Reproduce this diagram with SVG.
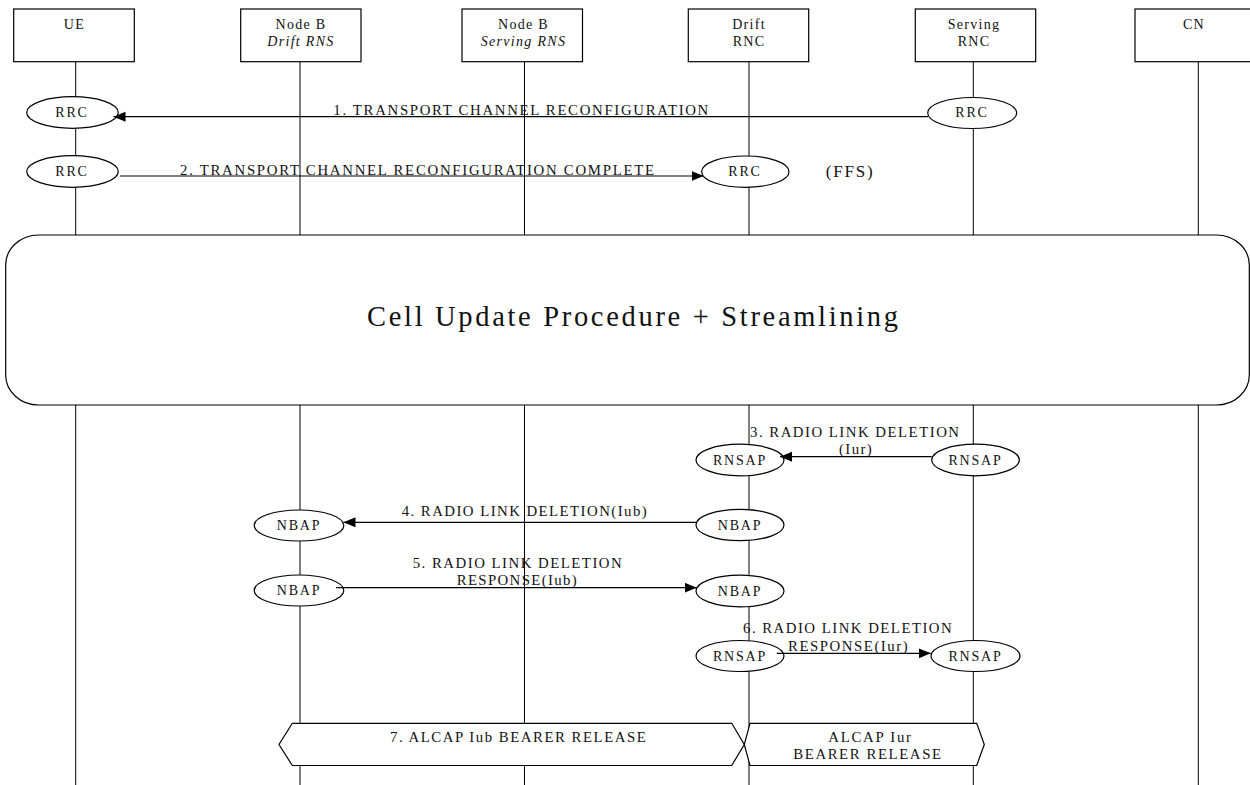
<svg xmlns="http://www.w3.org/2000/svg" width="1250" height="785" viewBox="0 0 1250 785">
<style>
.ln{stroke:#000;stroke-width:1;fill:none}
.box{fill:#fff;stroke:#000;stroke-width:1.2}
.ell{fill:#fff;stroke:#000;stroke-width:1.2}
.t{font-family:"Liberation Serif","Times New Roman",serif;font-size:14px;fill:#111}
.m{font-size:14.8px}
.h{letter-spacing:1.3px;text-anchor:middle}
.e{letter-spacing:1.8px;text-anchor:middle}
.i{font-style:italic}
.msg{stroke:#000;stroke-width:1.2;fill:none;marker-end:url(#ah)}
</style>
<defs>
<marker id="ah" markerUnits="userSpaceOnUse" markerWidth="13" markerHeight="11" refX="12" refY="5" orient="auto">
<path d="M0,0 L12,5 L0,10 z" fill="#000"/>
</marker>
</defs>
<rect width="1250" height="785" fill="#fff"/>
<g id="lifelines">
<path class="ln" d="M75.7,61.7V785 M300,61.7V785 M524.5,61.7V785 M749,61.7V785 M973.3,61.7V785 M1198.3,61.7V785"/>
</g>
<g id="node-ue">
<rect class="box" x="13.7" y="9" width="120.6" height="52.7"/>
<text class="t h" x="74.5" y="29.3">UE</text>
</g>
<g id="node-nodeb-drift">
<rect class="box" x="240.7" y="9" width="120.3" height="52.7"/>
<text class="t h" x="301" y="29.3">Node B</text>
<text class="t h i" x="301" y="45.7">Drift RNS</text>
</g>
<g id="node-nodeb-serving">
<rect class="box" x="462" y="9" width="120.5" height="52.7"/>
<text class="t h" x="523.5" y="29.3">Node B</text>
<text class="t h i" x="523.5" y="45.7">Serving RNS</text>
</g>
<g id="node-drift-rnc">
<rect class="box" x="688.3" y="9" width="120.4" height="52.7"/>
<text class="t h" x="749" y="29.3">Drift</text>
<text class="t h" x="749" y="46">RNC</text>
</g>
<g id="node-serving-rnc">
<rect class="box" x="915.3" y="9" width="120.4" height="52.7"/>
<text class="t h" x="974" y="29.3">Serving</text>
<text class="t h" x="974" y="46">RNC</text>
</g>
<g id="node-cn">
<rect class="box" x="1135" y="9" width="125" height="52.7"/>
<text class="t h" x="1194" y="29.3">CN</text>
</g>
<g id="procedure">
<rect class="box" x="5.7" y="235" width="1243.6" height="170" rx="33" ry="30"/>
<text class="t" style="font-size:28.5px" x="367" y="326" textLength="531" lengthAdjust="spacing">Cell Update Procedure + Streamlining</text>
</g>
<g id="rrc-ue-1"><ellipse class="ell" cx="72.5" cy="112.5" rx="45.8" ry="15.8"/><text class="t e" x="72" y="116.7">RRC</text></g>
<g id="rrc-ue-2"><ellipse class="ell" cx="72.5" cy="171.5" rx="45.8" ry="15.8"/><text class="t e" x="72" y="175.7">RRC</text></g>
<g id="rrc-srnc"><ellipse class="ell" cx="972.2" cy="113" rx="44.5" ry="15.5"/><text class="t e" x="972" y="117">RRC</text></g>
<g id="rrc-drnc"><ellipse class="ell" cx="745.3" cy="171.7" rx="43.7" ry="15.7"/><text class="t e" x="745" y="176">RRC</text></g>
<g id="rnsap-drnc-3"><ellipse class="ell" cx="740" cy="460" rx="44" ry="15.8"/><text class="t e" x="740" y="464.5">RNSAP</text></g>
<g id="rnsap-srnc-3"><ellipse class="ell" cx="975.5" cy="460" rx="43.8" ry="15.8"/><text class="t e" x="975.5" y="464.5">RNSAP</text></g>
<g id="nbap-nodeb-4"><ellipse class="ell" cx="299" cy="525.5" rx="44.8" ry="15.5"/><text class="t e" x="299" y="530">NBAP</text></g>
<g id="nbap-drnc-4"><ellipse class="ell" cx="740" cy="525" rx="44" ry="15.7"/><text class="t e" x="740" y="529.5">NBAP</text></g>
<g id="nbap-nodeb-5"><ellipse class="ell" cx="299" cy="590.5" rx="44.8" ry="15.5"/><text class="t e" x="299" y="595">NBAP</text></g>
<g id="nbap-drnc-5"><ellipse class="ell" cx="740" cy="591" rx="44" ry="15.8"/><text class="t e" x="740" y="595.5">NBAP</text></g>
<g id="rnsap-drnc-6"><ellipse class="ell" cx="740" cy="656" rx="44" ry="15.5"/><text class="t e" x="740" y="660.5">RNSAP</text></g>
<g id="rnsap-srnc-6"><ellipse class="ell" cx="975.5" cy="656" rx="44.5" ry="15.5"/><text class="t e" x="975.5" y="660.5">RNSAP</text></g>
<g id="connectors">
<path class="msg" d="M928,116.7H113.5"/>
<path class="msg" d="M120,176H703.5"/>
<path class="msg" d="M931.7,456.7H780"/>
<path class="msg" d="M696,522.3H343.5"/>
<path class="msg" d="M336,587.7H696.7"/>
<path class="msg" d="M776.7,653.3H930.7"/>
</g>
<g id="labels">
<text class="t m" x="333.3" y="115" textLength="375" lengthAdjust="spacing">1. TRANSPORT CHANNEL RECONFIGURATION</text>
<text class="t m" x="180" y="175" textLength="474" lengthAdjust="spacing">2. TRANSPORT CHANNEL RECONFIGURATION COMPLETE</text>
<text class="t" style="font-size:17px" x="825.7" y="177.3" textLength="47" lengthAdjust="spacing">(FFS)</text>
<text class="t m" x="750" y="436.7" textLength="209" lengthAdjust="spacing">3. RADIO LINK DELETION</text>
<text class="t m" x="839" y="454.3" textLength="32.7" lengthAdjust="spacing">(Iur)</text>
<text class="t m" x="401.7" y="516" textLength="245" lengthAdjust="spacing">4. RADIO LINK DELETION(Iub)</text>
<text class="t m" x="412.7" y="568.3" textLength="209" lengthAdjust="spacing">5. RADIO LINK DELETION</text>
<text class="t m" x="456.7" y="585" textLength="120" lengthAdjust="spacing">RESPONSE(Iub)</text>
<text class="t m" x="743" y="632.7" textLength="208.7" lengthAdjust="spacing">6. RADIO LINK DELETION</text>
<text class="t m" x="788" y="650.7" textLength="119.7" lengthAdjust="spacing">RESPONSE(Iur)</text>
</g>
<g id="alcap-iub">
<polygon class="box" points="292.3,723.3 731.7,723.3 744.3,744.5 731.7,765.5 292.3,765.5 279,744.5"/>
<text class="t m" x="390" y="742.3" textLength="255.7" lengthAdjust="spacing">7. ALCAP Iub BEARER RELEASE</text>
</g>
<g id="alcap-iur">
<polygon class="box" points="750,723.3 976.7,723.3 984.3,744.5 976.7,765.5 750,765.5 744.3,744.5"/>
<text class="t m" x="828.3" y="741.7" textLength="82.7" lengthAdjust="spacing">ALCAP Iur</text>
<text class="t m" x="793.3" y="759.3" textLength="147.7" lengthAdjust="spacing">BEARER RELEASE</text>
</g>
</svg>
